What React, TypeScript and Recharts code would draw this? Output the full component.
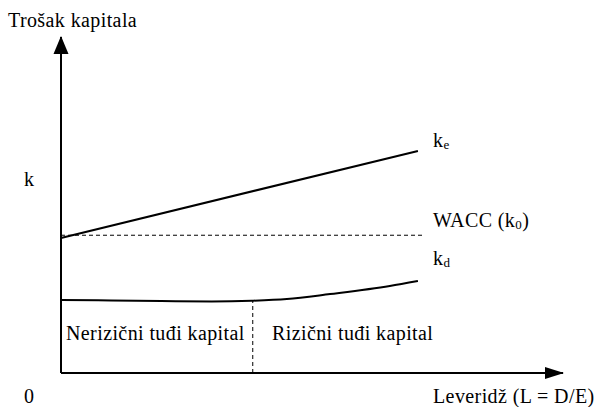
import React from 'react';
import { ComposedChart, Line, XAxis, YAxis, ReferenceLine } from 'recharts';

// x = leverage (arbitrary units), y = cost of capital (arbitrary units)
const keX = [0, 7.11];
const keY = [4.02, 6.61];
const waccX = [0, 7.25];
const waccY = [4.1, 4.1];
const kdX = [0, 1, 2, 3, 3.8, 4.5, 5.36, 6.55, 7.11];
const kdY = [2.17, 2.16, 2.14, 2.13, 2.15, 2.2, 2.35, 2.59, 2.74];
const riskBoundary = 3.82;

const ke = keX.map((x, i) => ({ x, y: keY[i] }));
const wacc = waccX.map((x, i) => ({ x, y: waccY[i] }));
const kd = kdX.map((x, i) => ({ x, y: kdY[i] }));

const W = 603;
const H = 407;
const font = '"Liberation Serif", "DejaVu Serif", serif';

export default function App() {
  return (
    <div style={{ position: 'absolute', left: 0, top: 0, width: W, height: H, background: '#fff' }}>
      <ComposedChart width={W} height={H} margin={{ top: 37, right: 40, bottom: 34, left: 61 }}>
        <XAxis type="number" dataKey="x" domain={[0, 10]} hide />
        <YAxis type="number" dataKey="y" domain={[0, 10]} hide />
        {/* axes */}
        <ReferenceLine segment={[{ x: 0, y: 0 }, { x: 10, y: 0 }]} stroke="#000" strokeWidth={2} ifOverflow="visible" />
        <ReferenceLine segment={[{ x: 0, y: 0 }, { x: 0, y: 10 }]} stroke="#000" strokeWidth={2} ifOverflow="visible" />
        <ReferenceLine segment={[{ x: riskBoundary, y: 0 }, { x: riskBoundary, y: 2.15 }]}
          stroke="#000" strokeDasharray="4 3" strokeWidth={1} />
        <Line data={wacc} dataKey="y" stroke="#000" strokeWidth={1} strokeDasharray="4 3"
          dot={false} isAnimationActive={false} />
        <Line data={ke} dataKey="y" stroke="#000" strokeWidth={2} dot={false} isAnimationActive={false} />
        <Line data={kd} dataKey="y" type="monotone" stroke="#000" strokeWidth={2} dot={false}
          isAnimationActive={false} />
      </ComposedChart>
      <svg width={W} height={H} style={{ position: 'absolute', left: 0, top: 0 }}>
        <polygon points="61,36 53.5,54 68.5,54" fill="#000" />
        <polygon points="564,373 545,367 545,379" fill="#000" />
        <g fontFamily={font} fontSize={20} letterSpacing={0.4} fill="#000">
          <text x={8} y={27}>Trošak kapitala</text>
          <text x={24} y={186}>k</text>
          <text x={433} y={147}>k<tspan fontSize={13} dy={2}>e</tspan></text>
          <text x={433} y={227}>WACC (k<tspan fontSize={13} dy={2}>0</tspan><tspan dy={-2}>)</tspan></text>
          <text x={433} y={265}>k<tspan fontSize={13} dy={2}>d</tspan></text>
          <text x={66} y={340}>Nerizični tuđi kapital</text>
          <text x={272} y={340}>Rizični tuđi kapital</text>
          <text x={24} y={403}>0</text>
          <text x={433} y={403}>Leveridž (L = D/E)</text>
        </g>
      </svg>
    </div>
  );
}
